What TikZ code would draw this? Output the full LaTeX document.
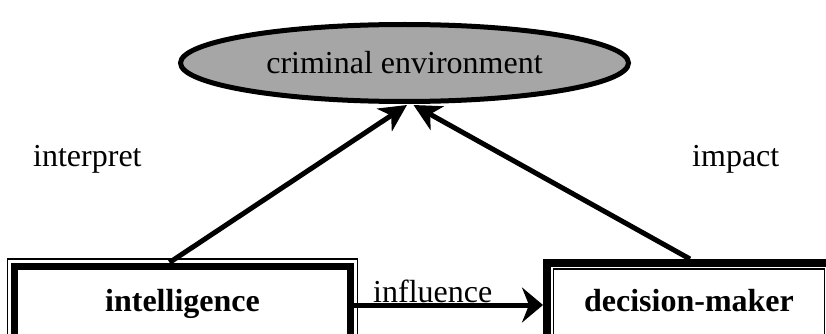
\documentclass[tikz,border=0pt]{standalone}
\usepackage{fontspec}
\setmainfont{Liberation Serif}
\usetikzlibrary{shapes.geometric,arrows.meta,calc,backgrounds}

\tikzset{
  every node/.style={font=\fontsize{32}{38}\selectfont},
  entity/.style={draw, line width=7pt, rectangle, inner sep=0pt,
    text height=22pt, text depth=7pt, font=\fontsize{32}{38}\selectfont\bfseries},
  cloud/.style={draw, ellipse, line width=5pt, fill=black!35,
    minimum width=448pt, minimum height=77pt, inner sep=0pt},
  link/.style={line width=5pt, -{Stealth[length=27pt, width=27pt, inset=8pt]}},
  flow/.style={line width=5pt, -{Stealth[length=21pt, width=35pt, inset=7pt]}},
  rim/.style={draw, line width=1.5pt},
  caption/.style={anchor=base west, inner sep=0pt}
}

\begin{document}
\begin{tikzpicture}[x=1pt, y=-1pt]
  \useasboundingbox (0,0) rectangle (826,334);
  \clip (0,0) rectangle (826,334);

  % the environment and the two actors
  \node[cloud] (env) at (404.5,63) {criminal environment};
  \node[entity, minimum width=336pt, minimum height=75pt] (intel) at (182.5,303.5) {intelligence};
  \node[entity, line width=8pt, minimum width=284pt, minimum height=81pt] (dec) at (689,303.5) {decision-maker};

  % double borders: thin frame outside the intelligence box, inside the decision box
  \draw[rim] ($(intel.north west)+(-3.5,-3.5)$) rectangle ($(intel.south east)+(3.5,3.5)$);
  \draw[rim] ($(dec.north west)+(10.5,10)$) rectangle ($(dec.south east)+(-10.5,-10)$);

  % connectors
  \begin{scope}[on background layer]
    \draw[link] ([xshift=-13pt]intel.north) -- ($(env.south)+(2.5,1)$);
    \draw[link] ([xshift=1pt]dec.north) -- ($(env.south)+(9,1)$);
  \end{scope}
  \draw[flow] ([yshift=-1.5pt]intel.east) -- ([yshift=-1.5pt]dec.west);

  % connector labels
  \node[caption] (lint) at (33,166) {interpret};
  \node[caption] (limp) at (692,166) {impact};
  \node[caption] (linf) at (373,302) {influence};
\end{tikzpicture}
\end{document}
